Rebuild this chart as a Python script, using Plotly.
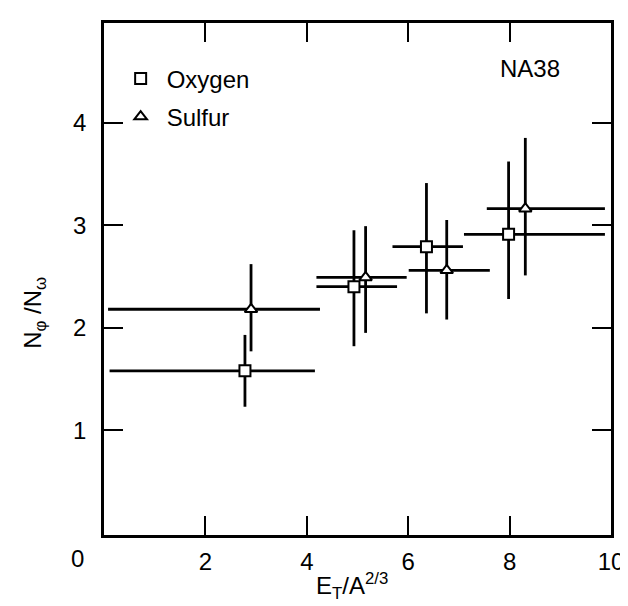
import plotly.graph_objects as go

# ---- data ----
oxy_x = [2.78, 4.93, 6.36, 7.98]
oxy_y = [1.58, 2.40, 2.79, 2.91]
oxy_xlo = [0.11, 4.19, 5.69, 7.10]
oxy_xhi = [4.16, 5.78, 7.08, 9.88]
oxy_ylo = [1.23, 1.82, 2.14, 2.28]
oxy_yhi = [1.93, 2.95, 3.41, 3.62]

sul_x = [2.90, 5.16, 6.76, 8.31]
sul_y = [2.18, 2.49, 2.56, 3.16]
sul_xlo = [0.08, 4.19, 6.01, 7.55]
sul_xhi = [4.26, 5.97, 7.61, 9.88]
sul_ylo = [1.77, 1.95, 2.08, 2.51]
sul_yhi = [2.62, 2.99, 3.05, 3.85]

x_ticks = [2, 4, 6, 8, 10]
y_ticks = [1, 2, 3, 4]

FONT = "Liberation Sans, Arial, Helvetica, sans-serif"
FS = 24


def trace(name, x, y, xlo, xhi, ylo, yhi, symbol, size):
    return go.Scatter(
        x=x, y=y, mode="markers", name=name, legendgroup=name,
        marker=dict(symbol=symbol, size=size, color="white",
                    line=dict(color="black", width=2)),
        error_x=dict(type="data", symmetric=False,
                     array=[h - v for h, v in zip(xhi, x)],
                     arrayminus=[v - l for l, v in zip(xlo, x)],
                     color="black", thickness=2.8, width=0),
        error_y=dict(type="data", symmetric=False,
                     array=[h - v for h, v in zip(yhi, y)],
                     arrayminus=[v - l for l, v in zip(ylo, y)],
                     color="black", thickness=2.8, width=0),
    )


fig = go.Figure()
fig.add_trace(trace("Oxygen", oxy_x, oxy_y, oxy_xlo, oxy_xhi, oxy_ylo, oxy_yhi, "square", 11))
fig.add_trace(trace("Sulfur", sul_x, sul_y, sul_xlo, sul_xhi, sul_ylo, sul_yhi, "triangle-up", 11))

axis_common = dict(
    showline=True, linecolor="black", linewidth=2.5, mirror="ticks",
    ticks="inside", ticklen=19, tickwidth=2, tickcolor="black",
    showgrid=False, zeroline=False,
    tickfont=dict(family=FONT, size=FS, color="black"),
)

fig.update_xaxes(range=[0, 10], tickvals=x_ticks, ticktext=[str(v) for v in x_ticks],
                 ticklabelstandoff=3, **axis_common)
fig.update_yaxes(range=[-0.02, 4.97], tickvals=y_ticks, ticktext=[str(v) for v in y_ticks],
                 ticklabelstandoff=10, **axis_common)


def note(text, x, y, **kw):
    return dict(text=text, x=x, y=y, xref="paper", yref="paper",
                xanchor="center", yanchor="middle", showarrow=False,
                font=dict(family=FONT, size=FS, color="black"), **kw)


fig.update_layout(
    width=628, height=606,
    margin=dict(l=96, r=18, t=13, b=79),
    paper_bgcolor="white", plot_bgcolor="white",
    font=dict(family=FONT, size=FS, color="black"),
    showlegend=True,
    legend=dict(x=0.021, y=0.935, xanchor="left", yanchor="top",
                bgcolor="rgba(0,0,0,0)", borderwidth=0,
                font=dict(family=FONT, size=FS, color="black"),
                itemwidth=42, tracegroupgap=4),
    annotations=[
        note("NA38", 0.840, 0.911),
        note("0", -0.053, -0.045),
        note("E<sub>T</sub>/A<sup>2/3</sup>", 0.49, -0.099),
        note("N<sub>φ</sub> /N<sub>ω</sub>", -0.136, 0.434, textangle=-90),
    ],
)

fig.write_html("out.html")
